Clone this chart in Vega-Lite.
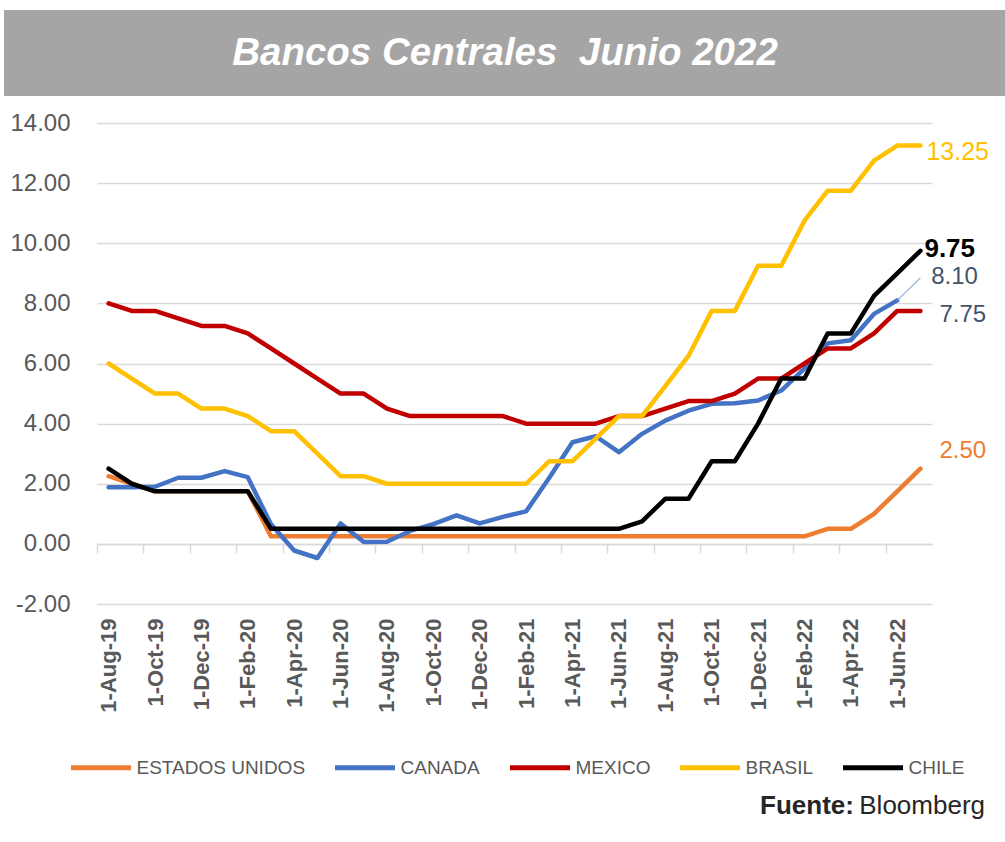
{
  "$schema": "https://vega.github.io/schema/vega-lite/v6.json",
  "background": "white",
  "padding": {"left": 4, "top": 10, "right": -77, "bottom": 0},
  "config": {"font": "Liberation Sans", "view": {"stroke": null},
    "locale": {"number": {"decimal": ".", "thousands": ",", "grouping": [3], "currency": ["$", ""], "minus": "-"}}},
  "datasets": {
    "tasas": [
      {"fecha": "1-Aug-19", "ESTADOS UNIDOS": 2.25, "CANADA": 1.88, "MEXICO": 8.0, "BRASIL": 6.0, "CHILE": 2.5},
      {"fecha": "1-Sep-19", "ESTADOS UNIDOS": 2.0, "CANADA": 1.88, "MEXICO": 7.75, "BRASIL": 5.5, "CHILE": 2.0},
      {"fecha": "1-Oct-19", "ESTADOS UNIDOS": 1.75, "CANADA": 1.9, "MEXICO": 7.75, "BRASIL": 5.0, "CHILE": 1.75},
      {"fecha": "1-Nov-19", "ESTADOS UNIDOS": 1.75, "CANADA": 2.2, "MEXICO": 7.5, "BRASIL": 5.0, "CHILE": 1.75},
      {"fecha": "1-Dec-19", "ESTADOS UNIDOS": 1.75, "CANADA": 2.2, "MEXICO": 7.25, "BRASIL": 4.5, "CHILE": 1.75},
      {"fecha": "1-Jan-20", "ESTADOS UNIDOS": 1.75, "CANADA": 2.42, "MEXICO": 7.25, "BRASIL": 4.5, "CHILE": 1.75},
      {"fecha": "1-Feb-20", "ESTADOS UNIDOS": 1.75, "CANADA": 2.22, "MEXICO": 7.0, "BRASIL": 4.25, "CHILE": 1.75},
      {"fecha": "1-Mar-20", "ESTADOS UNIDOS": 0.25, "CANADA": 0.65, "MEXICO": 6.5, "BRASIL": 3.75, "CHILE": 0.5},
      {"fecha": "1-Apr-20", "ESTADOS UNIDOS": 0.25, "CANADA": -0.22, "MEXICO": 6.0, "BRASIL": 3.75, "CHILE": 0.5},
      {"fecha": "1-May-20", "ESTADOS UNIDOS": 0.25, "CANADA": -0.47, "MEXICO": 5.5, "BRASIL": 3.0, "CHILE": 0.5},
      {"fecha": "1-Jun-20", "ESTADOS UNIDOS": 0.25, "CANADA": 0.68, "MEXICO": 5.0, "BRASIL": 2.25, "CHILE": 0.5},
      {"fecha": "1-Jul-20", "ESTADOS UNIDOS": 0.25, "CANADA": 0.06, "MEXICO": 5.0, "BRASIL": 2.25, "CHILE": 0.5},
      {"fecha": "1-Aug-20", "ESTADOS UNIDOS": 0.25, "CANADA": 0.07, "MEXICO": 4.5, "BRASIL": 2.0, "CHILE": 0.5},
      {"fecha": "1-Sep-20", "ESTADOS UNIDOS": 0.25, "CANADA": 0.43, "MEXICO": 4.25, "BRASIL": 2.0, "CHILE": 0.5},
      {"fecha": "1-Oct-20", "ESTADOS UNIDOS": 0.25, "CANADA": 0.66, "MEXICO": 4.25, "BRASIL": 2.0, "CHILE": 0.5},
      {"fecha": "1-Nov-20", "ESTADOS UNIDOS": 0.25, "CANADA": 0.95, "MEXICO": 4.25, "BRASIL": 2.0, "CHILE": 0.5},
      {"fecha": "1-Dec-20", "ESTADOS UNIDOS": 0.25, "CANADA": 0.68, "MEXICO": 4.25, "BRASIL": 2.0, "CHILE": 0.5},
      {"fecha": "1-Jan-21", "ESTADOS UNIDOS": 0.25, "CANADA": 0.9, "MEXICO": 4.25, "BRASIL": 2.0, "CHILE": 0.5},
      {"fecha": "1-Feb-21", "ESTADOS UNIDOS": 0.25, "CANADA": 1.08, "MEXICO": 4.0, "BRASIL": 2.0, "CHILE": 0.5},
      {"fecha": "1-Mar-21", "ESTADOS UNIDOS": 0.25, "CANADA": 2.2, "MEXICO": 4.0, "BRASIL": 2.75, "CHILE": 0.5},
      {"fecha": "1-Apr-21", "ESTADOS UNIDOS": 0.25, "CANADA": 3.38, "MEXICO": 4.0, "BRASIL": 2.75, "CHILE": 0.5},
      {"fecha": "1-May-21", "ESTADOS UNIDOS": 0.25, "CANADA": 3.58, "MEXICO": 4.0, "BRASIL": 3.5, "CHILE": 0.5},
      {"fecha": "1-Jun-21", "ESTADOS UNIDOS": 0.25, "CANADA": 3.05, "MEXICO": 4.25, "BRASIL": 4.25, "CHILE": 0.5},
      {"fecha": "1-Jul-21", "ESTADOS UNIDOS": 0.25, "CANADA": 3.66, "MEXICO": 4.25, "BRASIL": 4.25, "CHILE": 0.75},
      {"fecha": "1-Aug-21", "ESTADOS UNIDOS": 0.25, "CANADA": 4.1, "MEXICO": 4.5, "BRASIL": 5.25, "CHILE": 1.5},
      {"fecha": "1-Sep-21", "ESTADOS UNIDOS": 0.25, "CANADA": 4.43, "MEXICO": 4.75, "BRASIL": 6.25, "CHILE": 1.5},
      {"fecha": "1-Oct-21", "ESTADOS UNIDOS": 0.25, "CANADA": 4.66, "MEXICO": 4.75, "BRASIL": 7.75, "CHILE": 2.75},
      {"fecha": "1-Nov-21", "ESTADOS UNIDOS": 0.25, "CANADA": 4.68, "MEXICO": 5.0, "BRASIL": 7.75, "CHILE": 2.75},
      {"fecha": "1-Dec-21", "ESTADOS UNIDOS": 0.25, "CANADA": 4.77, "MEXICO": 5.5, "BRASIL": 9.25, "CHILE": 4.0},
      {"fecha": "1-Jan-22", "ESTADOS UNIDOS": 0.25, "CANADA": 5.1, "MEXICO": 5.5, "BRASIL": 9.25, "CHILE": 5.5},
      {"fecha": "1-Feb-22", "ESTADOS UNIDOS": 0.25, "CANADA": 5.83, "MEXICO": 6.0, "BRASIL": 10.75, "CHILE": 5.5},
      {"fecha": "1-Mar-22", "ESTADOS UNIDOS": 0.5, "CANADA": 6.67, "MEXICO": 6.5, "BRASIL": 11.75, "CHILE": 7.0},
      {"fecha": "1-Apr-22", "ESTADOS UNIDOS": 0.5, "CANADA": 6.77, "MEXICO": 6.5, "BRASIL": 11.75, "CHILE": 7.0},
      {"fecha": "1-May-22", "ESTADOS UNIDOS": 1.0, "CANADA": 7.65, "MEXICO": 7.0, "BRASIL": 12.75, "CHILE": 8.25},
      {"fecha": "1-Jun-22", "ESTADOS UNIDOS": 1.75, "CANADA": 8.10, "MEXICO": 7.75, "BRASIL": 13.25, "CHILE": 9.0},
      {"fecha": "1-Jul-22", "ESTADOS UNIDOS": 2.5, "CANADA": null, "MEXICO": 7.75, "BRASIL": 13.25, "CHILE": 9.75}
    ]
  },
  "center": true,
  "spacing": 15,
  "vconcat": [
    {
      "width": 1078,
      "height": 86,
      "view": {"fill": "#a5a5a5", "stroke": null},
      "data": {"values": [{"titulo": "Bancos Centrales\u00a0 Junio 2022"}]},
      "mark": {"type": "text", "color": "#ffffff", "fontSize": 38.5, "fontStyle": "italic", "fontWeight": "bold", "align": "center", "baseline": "middle", "dx": -38},
      "encoding": {"text": {"field": "titulo", "type": "nominal"}}
    },
    {
      "width": 835,
      "height": 481,
      "data": {"name": "tasas"},
      "transform": [{"fold": ["ESTADOS UNIDOS", "CANADA", "MEXICO", "BRASIL", "CHILE"], "as": ["pais", "tasa"]}],
      "encoding": {
        "x": {"field": "fecha", "type": "ordinal", "sort": null, "scale": {"type": "point", "padding": 0.5}, "axis": null},
        "y": {"field": "tasa", "type": "quantitative", "scale": {"domain": [-2, 14], "nice": false, "zero": false},
          "axis": {"title": null, "values": [-2, 0, 2, 4, 6, 8, 10, 12, 14], "format": ".2f", "labelFontSize": 24, "labelColor": "#595959", "labelPadding": 27, "ticks": false, "domain": false, "gridColor": "#d9d9d9", "gridWidth": 1.5}}
      },
      "layer": [
        {
          "mark": {"type": "line", "strokeWidth": 4.5, "strokeJoin": "round", "strokeCap": "round"},
          "encoding": {
            "x": {"field": "fecha", "type": "ordinal", "sort": null, "scale": {"type": "point", "padding": 0.5},
              "axis": {"orient": "bottom", "title": null, "values": ["1-Aug-19","1-Oct-19","1-Dec-19","1-Feb-20","1-Apr-20","1-Jun-20","1-Aug-20","1-Oct-20","1-Dec-20","1-Feb-21","1-Apr-21","1-Jun-21","1-Aug-21","1-Oct-21","1-Dec-21","1-Feb-22","1-Apr-22","1-Jun-22"],
                "labelAngle": 270, "labelFontSize": 22, "labelFontWeight": "bold", "labelColor": "#595959", "labelPadding": 14, "ticks": false, "domain": false, "grid": false}},
            "color": {"field": "pais", "type": "nominal",
              "scale": {"domain": ["ESTADOS UNIDOS", "CANADA", "MEXICO", "BRASIL", "CHILE"], "range": ["#ed7d31", "#4472c4", "#c00000", "#ffc000", "#000000"]},
              "legend": {"title": null, "orient": "none", "legendX": 64.5, "legendY": 725, "direction": "horizontal", "symbolType": "stroke", "symbolSize": 3600, "symbolStrokeWidth": 5, "labelFontSize": 19, "labelColor": "#595959", "labelOffset": 3, "columnPadding": 19, "labelLimit": 300}}
          }
        },
        {
          "transform": [{"filter": "datum.pais === 'BRASIL' && datum.fecha === '1-Jul-22'"}],
          "mark": {"type": "text", "align": "left", "baseline": "middle", "fontSize": 25, "color": "#ffc000", "dx": 6, "dy": 6},
          "encoding": {
            "x": {"field": "fecha", "type": "ordinal", "sort": null, "scale": {"type": "point", "padding": 0.5},
              "axis": {"orient": "bottom", "title": null, "offset": -60, "zindex": 0, "values": ["1-Aug-19","1-Oct-19","1-Dec-19","1-Feb-20","1-Apr-20","1-Jun-20","1-Aug-20","1-Oct-20","1-Dec-20","1-Feb-21","1-Apr-21","1-Jun-21","1-Aug-21","1-Oct-21","1-Dec-21","1-Feb-22","1-Apr-22","1-Jun-22"],
                "tickOffset": -11.597, "labels": false, "ticks": true, "tickSize": 9, "tickColor": "#d9d9d9", "tickWidth": 1.5, "domain": true, "domainColor": "#d9d9d9", "domainWidth": 1.5, "grid": false}},
            "text": {"field": "tasa", "type": "quantitative", "format": ".2f"}
          }
        },
        {
          "transform": [{"filter": "datum.pais === 'CHILE' && datum.fecha === '1-Jul-22'"}],
          "mark": {"type": "text", "align": "left", "baseline": "middle", "fontSize": 26, "fontWeight": "bold", "color": "#000000", "dx": 4, "dy": -2},
          "encoding": {"text": {"field": "tasa", "type": "quantitative", "format": ".2f"}}
        },
        {
          "transform": [{"filter": "datum.pais === 'CANADA' && datum.fecha === '1-Jun-22'"}],
          "mark": {"type": "text", "align": "left", "baseline": "middle", "fontSize": 24, "color": "#44546a", "dx": 34, "dy": -23},
          "encoding": {"text": {"field": "tasa", "type": "quantitative", "format": ".2f"}}
        },
        {
          "transform": [{"filter": "datum.pais === 'MEXICO' && datum.fecha === '1-Jul-22'"}],
          "mark": {"type": "text", "align": "left", "baseline": "middle", "fontSize": 24, "color": "#44546a", "dx": 19, "dy": 4},
          "encoding": {"text": {"field": "tasa", "type": "quantitative", "format": ".2f"}}
        },
        {
          "transform": [{"filter": "datum.pais === 'ESTADOS UNIDOS' && datum.fecha === '1-Jul-22'"}],
          "mark": {"type": "text", "align": "left", "baseline": "middle", "fontSize": 24, "color": "#ed7d31", "dx": 19, "dy": -18},
          "encoding": {"text": {"field": "tasa", "type": "quantitative", "format": ".2f"}}
        },
        {
          "transform": [{"filter": "datum.pais === 'CANADA' && datum.fecha === '1-Jun-22'"}],
          "mark": {"type": "rule", "color": "#8faadc", "strokeWidth": 1.2},
          "encoding": {"x2": {"datum": "1-Jul-22"}, "y2": {"datum": 8.85}}
        }
      ],
      "resolve": {"axis": {"x": "independent"}}
    },
    {
      "width": 1078,
      "height": 22,
      "view": {"fill": "transparent", "stroke": null},
      "data": {"values": [{"fuente": "Fuente:", "origen": "Bloomberg"}]},
      "layer": [
        {"mark": {"type": "text", "align": "right", "baseline": "middle", "fontSize": 26, "color": "#262626", "dx": -97, "dy": 67},
         "encoding": {"x": {"value": "width"}, "text": {"field": "origen", "type": "nominal"}}},
        {"mark": {"type": "text", "align": "right", "baseline": "middle", "fontSize": 26, "fontWeight": "bold", "color": "#262626", "dx": -228, "dy": 67},
         "encoding": {"x": {"value": "width"}, "text": {"field": "fuente", "type": "nominal"}}}
      ]
    }
  ]
}
